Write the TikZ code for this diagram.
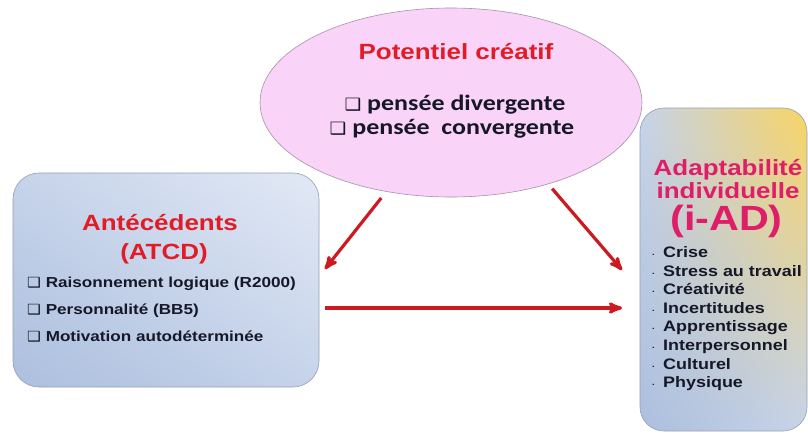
\documentclass[tikz,border=0pt]{standalone}
\usepackage{fontspec}
\setmainfont{Liberation Sans}[FakeStretch=1.18]
\newfontfamily\calib{Carlito}[FakeStretch=1.18]
\newfontfamily\dejavu{DejaVu Sans}[FakeStretch=1.1]
\usetikzlibrary{arrows}
\usetikzlibrary{shapes.geometric,shadings}

\definecolor{titlered}{RGB}{226,28,38}
\definecolor{titlepink}{RGB}{222,30,105}
\definecolor{arrowred}{RGB}{204,26,32}
\definecolor{potfill}{RGB}{250,212,248}
\definecolor{potline}{RGB}{165,145,170}
\definecolor{boxline}{RGB}{150,160,178}
\definecolor{boxdark}{RGB}{172,191,222}
\definecolor{boxmid}{RGB}{198,211,234}
\definecolor{boxlight}{RGB}{226,233,245}
\definecolor{boxyellow}{RGB}{248,212,100}
\definecolor{itemtext}{RGB}{22,24,40}

\newcommand{\chk}[1]{{\dejavu\mdseries\fontsize{#1}{#1}\selectfont ❑}}
\newcommand{\bul}{\makebox[11pt][l]{\fontsize{8}{8}\selectfont\raisebox{2pt}{.}}}

\begin{document}
\begin{tikzpicture}[x=1pt, y=-1pt,
  potshape/.style={ellipse, draw=potline, fill=potfill, line width=0.6pt,
    minimum width=382pt, minimum height=189pt, inner sep=0pt},
  leftbox/.style={draw=boxline, line width=0.6pt, rounded corners=26pt,
    minimum width=306pt, minimum height=214pt,
    upper left=boxmid, upper right=boxlight, lower left=boxdark, lower right=boxmid},
  rightbox/.style={draw=boxline, line width=0.6pt, rounded corners=24pt,
    minimum width=167pt, minimum height=323pt,
    upper left=boxmid, upper right=boxyellow, lower left=boxdark, lower right=boxmid},
  title/.style={font=\bfseries\fontsize{22}{25}\selectfont, text=titlered, inner sep=0pt, anchor=base},
  iadtitle/.style={font=\bfseries\fontsize{22}{25}\selectfont, text=titlepink, inner sep=0pt, anchor=base},
  think/.style={font=\calib\bfseries\fontsize{22}{25}\selectfont, text=itemtext, inner sep=0pt, anchor=base},
  antitem/.style={font=\bfseries\fontsize{14.5}{16}\selectfont, text=itemtext, inner sep=0pt, anchor=base west},
  aditem/.style={font=\bfseries\fontsize{15.2}{17}\selectfont, text=itemtext, inner sep=0pt, anchor=base west},
  arr/.style={arrowred, line width=3.2pt, ->, >=stealth'}]
\useasboundingbox (0,0) rectangle (808,434);
\fill[white] (0,0) rectangle (808,434);

\node[potshape] (pot) at (451,102.5) {};
\node[leftbox] (atcd) at (166,280) {};
\node[rightbox] (iad) at (723.5,269.5) {};

\node[title] (potT) at (456,59) {Potentiel créatif};
\node[think] (potA) at (455,110) {\chk{17}\ pensée divergente};
\node[think] (potB) at (452,134) {\chk{17}\ pensée\ \ convergente};

\node[title] (atcdA) at (160,230) {Antécédents};
\node[title] (atcdB) at (164,259) {(ATCD)};
\foreach \lbl [count=\i] in {Raisonnement logique (R2000), Personnalité (BB5), Motivation autodéterminée}
  \node[antitem] (ant\i) at (27,260+27.2*\i) {\chk{14}\ \lbl};

\node[iadtitle] (iadA) at (728,175) {Adaptabilité};
\node[iadtitle] (iadB) at (728,198) {individuelle};
\node[iadtitle, font=\bfseries\fontsize{35}{38}\selectfont] (iadC) at (726.5,230) {(i-AD)};
\foreach \lbl [count=\i from 0] in {Crise, Stress au travail, Créativité, Incertitudes, Apprentissage, Interpersonnel, Culturel, Physique}
  \node[aditem] (ad\i) at (652,257.5+18.6*\i) {\bul\lbl};

\coordinate (tipL) at (325,269);
\coordinate (tipR) at (622,270);
\coordinate (tipH) at (622,308);
\draw[arr, shorten <=8pt] (pot.234) -- (tipL);
\draw[arr, shorten <=6pt] (pot.320) -- (tipR);
\draw[arr, shorten <=6pt] (atcd.east |- tipH) -- (tipH);
\end{tikzpicture}
\end{document}
